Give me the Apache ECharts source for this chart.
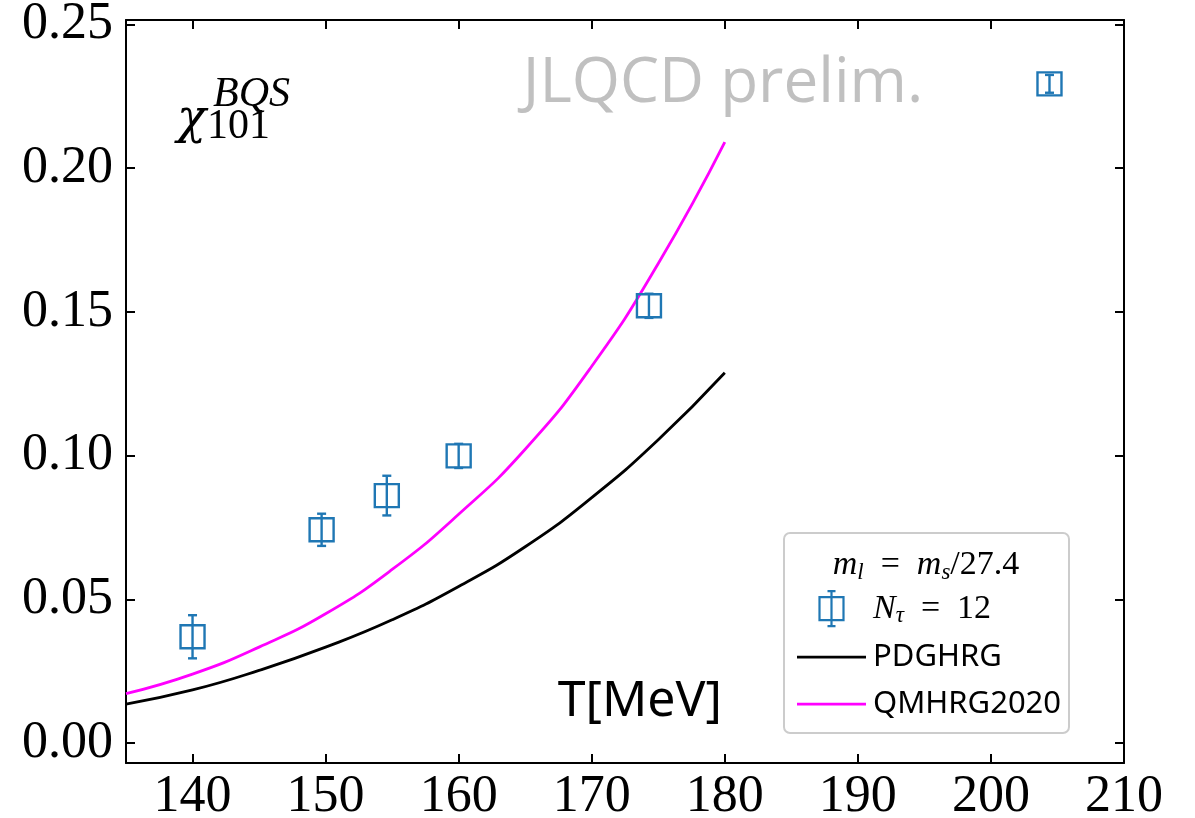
<!DOCTYPE html>
<html><head><meta charset="utf-8">
<script src="https://cdn.jsdelivr.net/npm/echarts@6/dist/echarts.min.js"></script>
<style>html,body{margin:0;padding:0;background:#fff}#c{width:1195px;height:818px}</style>
</head><body><div id="c"></div>
<script>
// ---- data ----
const xTicks = [140, 150, 160, 170, 180, 190, 200, 210];
const yTicks = [0, 0.05, 0.10, 0.15, 0.20, 0.25];
const lineT  = [135, 140, 145, 150, 155, 160, 165, 170, 175, 180];
const pdghrg = [0.0136, 0.0185, 0.0253, 0.0334, 0.0429, 0.0545, 0.0683, 0.0854, 0.1055, 0.1288];
const qmhrg  = [0.0172, 0.0240, 0.0334, 0.0450, 0.0604, 0.0796, 0.1022, 0.1311, 0.1668, 0.2090];
const latT   = [140.0, 149.7, 154.6, 160.0, 174.3, 204.4];
const latV   = [0.0370, 0.0742, 0.0861, 0.0999, 0.1521, 0.2293];
const latErr = [0.0075, 0.0056, 0.0069, 0.0042, 0.0042, 0.0031];

const BLUE = '#1f77b4';
const SERIF = 'Liberation Serif';
const SANS = 'Noto Sans';

const chart = echarts.init(document.getElementById('c'), null, {renderer: 'canvas'});

const axisLineStyle = {color: '#000', width: 2};
function xAx(pos, showLabel) {
  return {
    type: 'value', min: 135, max: 210, position: pos,
    axisLine: {show: true, onZero: false, lineStyle: axisLineStyle},
    axisTick: {show: true, inside: true, length: 9, customValues: xTicks, lineStyle: axisLineStyle},
    axisLabel: {show: showLabel, customValues: xTicks, fontFamily: SERIF, fontSize: 52, color: '#000', margin: 8,
      formatter: v => String(v)},
    splitLine: {show: false}
  };
}
function yAx(pos, showLabel) {
  return {
    type: 'value', min: -0.0069, max: 0.2515, position: pos,
    axisLine: {show: true, onZero: false, lineStyle: axisLineStyle},
    axisTick: {show: true, inside: true, length: 9, customValues: yTicks, lineStyle: axisLineStyle},
    axisLabel: {show: showLabel, customValues: yTicks, fontFamily: SERIF, fontSize: 52, color: '#000', margin: 13,
      formatter: v => v.toFixed(2)},
    splitLine: {show: false}
  };
}

const rich = {
  i: {fontFamily: SERIF, fontStyle: 'italic', fontSize: 34, color: '#000', fill: '#000'},
  s: {fontFamily: SERIF, fontStyle: 'italic', fontSize: 23, color: '#000', fill: '#000', padding: [15, 0, 0, 0]},
  n: {fontFamily: SERIF, fontSize: 34, color: '#000', fill: '#000'}
};

const option = {
  animation: false,
  backgroundColor: '#fff',
  grid: {left: 126, right: 71, top: 20, bottom: 55, containLabel: false, outerBoundsMode: 'none'},
  xAxis: [xAx('bottom', true), xAx('top', false)],
  yAxis: [yAx('left', true), yAx('right', false)],
  legend: {
    orient: 'vertical', left: 797, top: 590, padding: 0,
    itemWidth: 69, itemHeight: 35, itemGap: 12, z: 10,
    symbolKeepAspect: true,
    data: [
      {name: 'Ntau', icon: 'path://M6,6h24v23h-24z M18,0v35 M14,0h8 M14,35h8',
        itemStyle: {color: 'rgba(0,0,0,0)', borderColor: BLUE, borderWidth: 2.2}},
      {name: 'PDGHRG', icon: 'path://M0,0h69v2.8h-69z', itemStyle: {color: '#000', borderWidth: 0}},
      {name: 'QMHRG2020', icon: 'path://M0,0h69v2.8h-69z', itemStyle: {color: '#ff00ff', borderWidth: 0}}
    ],
    formatter: n => n === 'Ntau' ? '{i|N}{s|τ}{n|  =  12}' : n,
    textStyle: {
      fontFamily: SANS, fontSize: 31, color: '#000', padding: [0, 0, 0, 2], lineHeight: 35,
      rich: rich
    }
  },
  graphic: [
    {type: 'rect', z: 3, shape: {x: 784, y: 533, width: 285, height: 200, r: 6},
      style: {fill: '#fff', stroke: '#cccccc', lineWidth: 2}},
    {type: 'text', z: 11, x: 926, y: 565, style: {
      text: '{i|m}{s|l}{n|  =  }{i|m}{s|s}{n|/27.4}', align: 'center', verticalAlign: 'middle',
      rich: rich}},
    {type: 'text', z: 11, x: 723, y: 84, style: {
      text: 'JLQCD prelim.', fontFamily: 'Open Sans', fontSize: 62, fill: '#c0c0c0',
      align: 'center', verticalAlign: 'middle'}},
    {type: 'text', z: 11, x: 722, y: 702, style: {
      text: 'T[MeV]', fontFamily: SANS, fontSize: 50, fill: '#000', align: 'right', verticalAlign: 'middle'}},
    {type: 'text', z: 11, x: 177, y: 121, style: {
      text: 'χ', fontFamily: 'DejaVu Serif', fontStyle: 'italic', fontSize: 48, fill: '#000', align: 'left', verticalAlign: 'middle'}},
    {type: 'text', z: 11, x: 207, y: 127, style: {
      text: '101', fontFamily: SERIF, fontSize: 42, fill: '#000', align: 'left', verticalAlign: 'middle'}},
    {type: 'text', z: 11, x: 213, y: 95, style: {
      text: 'BQS', fontFamily: SERIF, fontStyle: 'italic', fontSize: 42, fill: '#000', align: 'left', verticalAlign: 'middle'}}
  ],
  series: [
    {
      name: 'PDGHRG', type: 'line', smooth: true, symbol: 'none', showSymbol: false,
      data: lineT.map((t, i) => [t, pdghrg[i]]),
      lineStyle: {color: '#000', width: 2.8}, itemStyle: {color: '#000'}, z: 2
    },
    {
      name: 'QMHRG2020', type: 'line', smooth: true, symbol: 'none', showSymbol: false,
      data: lineT.map((t, i) => [t, qmhrg[i]]),
      lineStyle: {color: '#ff00ff', width: 2.8}, itemStyle: {color: '#ff00ff'}, z: 2
    },
    {
      name: 'Ntau', type: 'custom', z: 4,
      itemStyle: {color: BLUE},
      encode: {x: 0, y: 1},
      data: latT.map((t, i) => [t, latV[i], latErr[i]]),
      renderItem: function (params, api) {
        const x = api.value(0), y = api.value(1), e = api.value(2);
        const c = api.coord([x, y]);
        const t = api.coord([x, y + e]);
        const b = api.coord([x, y - e]);
        const cap = 4.5, hw = 12, hh = 11.5;
        const st = {stroke: BLUE, lineWidth: 2.4, fill: null};
        return {type: 'group', children: [
          {type: 'line', shape: {x1: c[0], y1: t[1], x2: c[0], y2: b[1]}, style: st},
          {type: 'line', shape: {x1: c[0] - cap, y1: t[1], x2: c[0] + cap, y2: t[1]}, style: st},
          {type: 'line', shape: {x1: c[0] - cap, y1: b[1], x2: c[0] + cap, y2: b[1]}, style: st},
          {type: 'rect', shape: {x: c[0] - hw, y: c[1] - hh, width: 2 * hw, height: 2 * hh},
            style: {stroke: BLUE, lineWidth: 2.4, fill: 'rgba(0,0,0,0)'}}
        ]};
      }
    }
  ]
};
chart.setOption(option);
</script>
</body></html>
